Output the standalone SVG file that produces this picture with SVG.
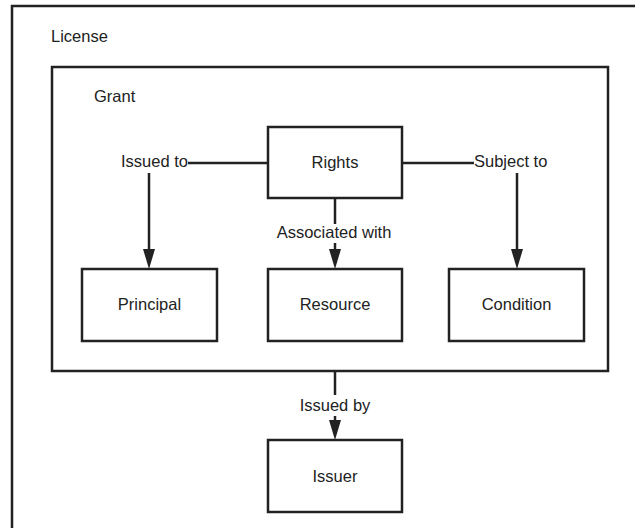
<svg xmlns="http://www.w3.org/2000/svg" width="635" height="528" viewBox="0 0 635 528">
<defs>
<style>
.box{fill:#fff;stroke:#222;stroke-width:2.5}
.frame{fill:none;stroke:#222;stroke-width:2.5}
.ln{fill:none;stroke:#222;stroke-width:2.5}
text{font-family:"Liberation Sans",Arial,sans-serif;font-size:16.5px;fill:#222}
.c{text-anchor:middle}
</style>
</defs>
<rect width="635" height="528" fill="#fff"/>
<g id="license">
<rect class="frame" x="12" y="6" width="640" height="540"/>
<text x="51" y="42">License</text>
</g>
<g id="grant">
<rect class="frame" x="52" y="67" width="556" height="304"/>
<text x="94" y="102">Grant</text>
</g>
<g id="connectors">
<path class="ln" d="M268,163 H188"/>
<path class="ln" d="M149,173 V250"/>
<path d="M143,249 L155,249 L149,269 Z" fill="#222"/>
<path class="ln" d="M402,163 H474"/>
<path class="ln" d="M517,173 V250"/>
<path d="M511,249 L523,249 L517,269 Z" fill="#222"/>
<path class="ln" d="M335,198 V224"/>
<path class="ln" d="M335,243 V250"/>
<path d="M329,249 L341,249 L335,269 Z" fill="#222"/>
<path class="ln" d="M335,371 V395"/>
<path class="ln" d="M335,416 V421"/>
<path d="M329,420 L341,420 L335,440 Z" fill="#222"/>
<text x="121" y="167">Issued to</text>
<text x="474" y="167">Subject to</text>
<text class="c" x="334" y="238">Associated with</text>
<text class="c" x="335" y="411">Issued by</text>
</g>
<g id="rights">
<rect class="box" x="268" y="127" width="134" height="71"/>
<text class="c" x="335" y="168">Rights</text>
</g>
<g id="principal">
<rect class="box" x="82" y="269" width="135" height="72"/>
<text class="c" x="149.5" y="310">Principal</text>
</g>
<g id="resource">
<rect class="box" x="268" y="269" width="134" height="72"/>
<text class="c" x="335" y="310">Resource</text>
</g>
<g id="condition">
<rect class="box" x="449" y="269" width="135" height="72"/>
<text class="c" x="516.5" y="310">Condition</text>
</g>
<g id="issuer">
<rect class="box" x="268" y="440" width="134" height="72"/>
<text class="c" x="335" y="482">Issuer</text>
</g>
</svg>
